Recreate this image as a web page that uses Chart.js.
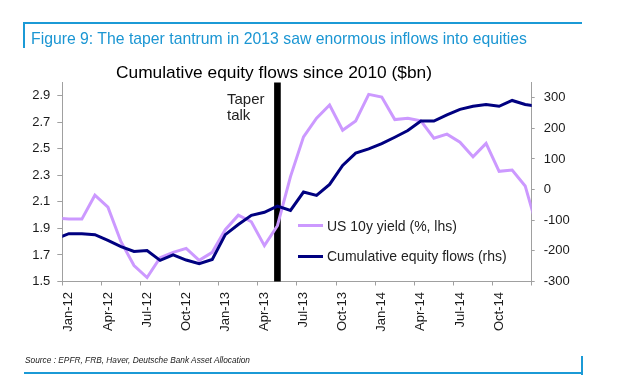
<!DOCTYPE html>
<html><head><meta charset="utf-8">
<script src="https://cdn.jsdelivr.net/npm/chart.js@4.4.1/dist/chart.umd.min.js"></script>
<style>
html,body{margin:0;padding:0;background:#fff;}
#wrap{position:relative;width:644px;height:385px;overflow:hidden;font-family:"Liberation Sans",Arial,sans-serif;}
#c{position:absolute;left:0;top:0;}
.abs{position:absolute;white-space:nowrap;}
</style></head><body>
<div id="wrap">
<canvas id="c" width="644" height="385"></canvas>
<div class="abs" style="left:23px;top:22px;width:559px;height:2px;background:#1b9ad6"></div>
<div class="abs" style="left:23px;top:22px;width:2px;height:26px;background:#1b9ad6"></div>
<div class="abs" id="hdr" style="left:31px;top:29px;font-size:17px;line-height:20px;color:#1b96d3;font-family:'Liberation Sans Narrow','Arial Narrow','Liberation Sans',sans-serif;transform-origin:0 0">Figure 9: The taper tantrum in 2013 saw enormous inflows into equities</div>
<div class="abs" id="ttl" style="left:116px;top:63px;font-size:17px;line-height:20px;color:#000;transform-origin:0 0"></div>
<div class="abs" id="taper" style="left:227px;top:91px;font-size:15px;line-height:16px;color:#222"></div>
<div class="abs" style="left:298px;top:224px;width:25px;height:3px;background:#cc99ff"></div>
<div class="abs" id="leg1" style="left:327px;top:218px;font-size:14px;line-height:16px;color:#222"></div>
<div class="abs" style="left:298px;top:255px;width:25px;height:3px;background:#000080"></div>
<div class="abs" id="leg2" style="left:327px;top:248px;font-size:14px;line-height:16px;color:#222"></div>
<div class="abs" id="src" style="left:25px;top:355px;font-size:9px;line-height:10px;font-style:italic;color:#222;font-family:'Liberation Sans Narrow','Arial Narrow','Liberation Sans',sans-serif;transform-origin:0 0">Source : EPFR, FRB, Haver, Deutsche Bank Asset Allocation</div>
<div class="abs" style="left:581px;top:356px;width:2px;height:19px;background:#1b9ad6"></div>
<div class="abs" style="left:24px;top:372px;width:559px;height:2px;background:#1b9ad6"></div>
</div>
<script>
// ---- data ----
const months = ['Dec-11',
 'Jan-12','Feb-12','Mar-12','Apr-12','May-12','Jun-12','Jul-12','Aug-12','Sep-12','Oct-12','Nov-12','Dec-12',
 'Jan-13','Feb-13','Mar-13','Apr-13','May-13','Jun-13','Jul-13','Aug-13','Sep-13','Oct-13','Nov-13','Dec-13',
 'Jan-14','Feb-14','Mar-14','Apr-14','May-14','Jun-14','Jul-14','Aug-14','Sep-14','Oct-14','Nov-14','Dec-14',
 'Jan-15'];
const yield10y = [1.98,
 1.97,1.97,2.15,2.06,1.80,1.62,1.53,1.68,1.72,1.75,1.66,1.72,
 1.89,2.00,1.95,1.77,1.92,2.29,2.59,2.73,2.83,2.64,2.71,2.91,
 2.89,2.72,2.73,2.71,2.58,2.61,2.55,2.44,2.54,2.33,2.34,2.22,
 1.88];
const equityFlows = [-160,
 -144,-144,-147,-166,-186,-202,-199,-231,-213,-230,-242,-228,
 -147,-114,-84,-74,-54,-68,-8,-19,17,79,119,133,
 150,171,193,224,224,244,262,272,278,272,291,278,
 272];
const quarterLabels = ['Jan-12','Apr-12','Jul-12','Oct-12','Jan-13','Apr-13','Jul-13','Oct-13','Jan-14','Apr-14','Jul-14','Oct-14'];
const leftTicks = [1.5,1.7,1.9,2.1,2.3,2.5,2.7,2.9];
const rightTicks = [-300,-200,-100,0,100,200,300];
const firstMonth = 'Jan-12', lastMonth = 'Dec-14';
const taperMonth = 'May-13';
const taperText = ['Taper','talk'];
const seriesNames = ['US 10y yield (%, lhs)','Cumulative equity flows (rhs)'];
const chartTitle = 'Cumulative equity flows since 2010 ($bn)';

// ---- helpers ----
const mIdx = m => months.indexOf(m) - months.indexOf(firstMonth);
const xMin = mIdx(firstMonth) - 0.5, xMax = mIdx(lastMonth) + 0.5;
const yieldPts = months.map((m,i)=>({x:mIdx(m), y:yield10y[i]}));
const flowPts = months.map((m,i)=>({x:mIdx(m), y:equityFlows[i]}));
const boundaryTicks = quarterLabels.map(l=>mIdx(l)-0.5).concat([xMax]);
const centerTicks = quarterLabels.map(l=>mIdx(l));

document.getElementById('ttl').textContent = chartTitle;
document.getElementById('taper').innerHTML = taperText.join('<br>');
document.getElementById('leg1').textContent = seriesNames[0];
document.getElementById('leg2').textContent = seriesNames[1];

const axisColor = '#a0a0a0', textColor = '#1a1a1a';
const fontFam = "'Liberation Sans', Arial, sans-serif";
const tickFont = {family: fontFam, size: 13};

new Chart(document.getElementById('c'), {
  type: 'line',
  data: {
    datasets: [
      {label: seriesNames[1], data: flowPts, yAxisID: 'y1', xAxisID: 'x', borderColor: '#000080',
       borderWidth: 3, pointRadius: 0, tension: 0, order: 1, clip: 0},
      {label: seriesNames[0], data: yieldPts, yAxisID: 'y', xAxisID: 'x', borderColor: '#cc99ff',
       borderWidth: 3, pointRadius: 0, tension: 0, order: 2, clip: 0},
      {type: 'bar', label: 'Taper talk', data: [{x: mIdx(taperMonth), y: 3.0}], yAxisID: 'y', xAxisID: 'x',
       backgroundColor: '#000', barThickness: 6, order: 3}
    ]
  },
  options: {
    responsive: false, animation: false, events: [],
    layout: {padding: {top: 82.4, right: 62.3, bottom: 0, left: 0}},
    plugins: {legend: {display: false}, tooltip: {enabled: false}, title: {display: false}},
    scales: {
      x: {type: 'linear', position: 'bottom', min: xMin, max: xMax, weight: 0, offset: false,
          afterBuildTicks: s => { s.ticks = boundaryTicks.map(v=>({value:v})); },
          afterFit: s => { s.height = 8; },
          ticks: {display: false},
          grid: {offset: false, drawOnChartArea: false, color: axisColor, tickLength: 4, tickWidth: 1},
          border: {color: axisColor, width: 1}},
      x2: {type: 'linear', position: 'bottom', min: xMin, max: xMax, weight: 1, offset: false,
          afterBuildTicks: s => { s.ticks = centerTicks.map(v=>({value:v})); },
          afterFit: s => { s.height = 95.5; },
          ticks: {autoSkip: false, minRotation: 90, maxRotation: 90, padding: 2.5, color: textColor, font: tickFont,
                  callback: (v, i) => quarterLabels[i]},
          grid: {display: false, drawTicks: false}, border: {display: false}},
      y: {type: 'linear', position: 'left', min: 1.5, max: 3.0,
          afterBuildTicks: s => { s.ticks = leftTicks.map(v=>({value:v})); },
          afterFit: s => { s.width = 62.3; },
          ticks: {color: textColor, font: tickFont, padding: 7, callback: v => Number(v).toFixed(1)},
          grid: {drawOnChartArea: false, color: axisColor, tickLength: 5},
          border: {color: axisColor, width: 1}},
      y1: {type: 'linear', position: 'right', min: -300, max: 350,
          afterBuildTicks: s => { s.ticks = rightTicks.map(v=>({value:v})); },
          afterFit: s => { s.width = 50; },
          ticks: {color: textColor, font: tickFont, padding: 9, callback: v => String(v)},
          grid: {drawOnChartArea: false, color: axisColor, tickLength: 3},
          border: {color: axisColor, width: 1}}
    }
  }
});

function fitWidth(id, w) {
  const el = document.getElementById(id);
  const r = el.getBoundingClientRect().width;
  if (r > 0) el.style.transform = 'scaleX(' + (w / r) + ')';
}
fitWidth('hdr', 496);
fitWidth('ttl', 316);
fitWidth('src', 225);
</script>
</body></html>
